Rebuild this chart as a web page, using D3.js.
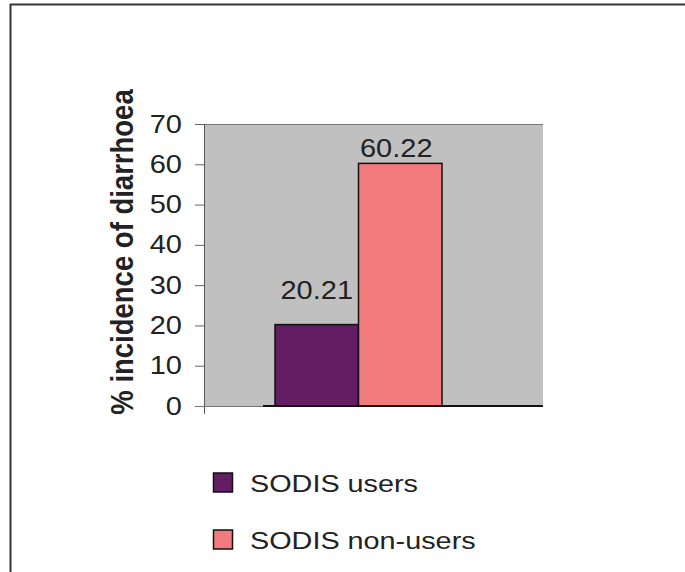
<!DOCTYPE html>
<html>
<head>
<meta charset="utf-8">
<script src="https://cdn.jsdelivr.net/npm/d3@7"></script>
<style>
  html, body { margin: 0; padding: 0; background: #fff; }
  svg { display: block; font-family: "Liberation Sans", Arial, sans-serif; }
</style>
</head>
<body>
<svg id="chart" width="685" height="572"></svg>
<script>
// Data
const series = ["SODIS users", "SODIS non-users"];
const values = [20.21, 60.22];
const colors = ["#621d63", "#f27b7e"];
const yTicks = [0, 10, 20, 30, 40, 50, 60, 70];
const yTitle = "% incidence of diarrhoea";

// Text in this figure is set slightly wide
const stretch = 1.16;

const svg = d3.select("#chart");

// Outer frame (top and left rules)
svg.append("line").attr("x1", 10).attr("x2", 685).attr("y1", 4.5).attr("y2", 4.5)
  .attr("stroke", "#333").attr("stroke-width", 2);
svg.append("line").attr("x1", 10.5).attr("x2", 10.5).attr("y1", 4).attr("y2", 572)
  .attr("stroke", "#333").attr("stroke-width", 2);

// Plot area
const plot = { left: 204, right: 543, top: 124, bottom: 406 };

const y = d3.scaleLinear().domain([0, 70]).range([plot.bottom, plot.top]);
const x = d3.scaleBand().domain(series).range([275, 442]).padding(0);

svg.append("rect")
  .attr("x", plot.left).attr("y", plot.top)
  .attr("width", plot.right - plot.left).attr("height", plot.bottom - plot.top)
  .attr("fill", "#c0c0c0");
svg.append("line")
  .attr("x1", plot.left).attr("x2", plot.right)
  .attr("y1", plot.top + 0.5).attr("y2", plot.top + 0.5)
  .attr("stroke", "#7a7a7a").attr("stroke-width", 1);

// Bars
svg.append("g").selectAll("rect")
  .data(series)
  .join("rect")
  .attr("x", d => x(d))
  .attr("y", (d, i) => y(values[i]))
  .attr("width", x.bandwidth())
  .attr("height", (d, i) => y(0) - y(values[i]))
  .attr("fill", (d, i) => colors[i])
  .attr("stroke", "#111")
  .attr("stroke-width", 1.5);

// Value labels (the first one is lifted clear of the taller bar)
const labelLift = [26, 6];
svg.append("g").selectAll("text")
  .data(series)
  .join("text")
  .attr("transform", (d, i) =>
    `translate(${x(d) + x.bandwidth() / 2 + (i === 0 ? 0 : -4)}, ${y(values[i]) - labelLift[i]}) scale(${stretch},1)`)
  .attr("text-anchor", "middle")
  .attr("font-size", 25)
  .attr("fill", "#222")
  .text((d, i) => values[i].toFixed(2));

// Y axis
const yAxis = d3.axisLeft(y).tickValues(yTicks).tickSize(9).tickPadding(0);
const gy = svg.append("g")
  .attr("transform", `translate(${plot.left},0)`)
  .call(yAxis);
gy.select(".domain").remove();
gy.selectAll(".tick line").attr("stroke", "#666");
gy.selectAll(".tick text")
  .attr("x", null)
  .attr("transform", `translate(-22,0) scale(${stretch},1)`)
  .attr("font-size", 25)
  .attr("font-family", "Liberation Sans, Arial, sans-serif")
  .attr("fill", "#222");
svg.append("line")
  .attr("x1", plot.left + 0.5).attr("x2", plot.left + 0.5)
  .attr("y1", plot.top).attr("y2", plot.bottom + 8)
  .attr("stroke", "#555").attr("stroke-width", 1);

// Category axis baseline
svg.append("line")
  .attr("x1", plot.left - 9).attr("x2", plot.right)
  .attr("y1", y(0) + 0.5).attr("y2", y(0) + 0.5)
  .attr("stroke", "#777").attr("stroke-width", 1);
svg.append("line")
  .attr("x1", 263).attr("x2", plot.right)
  .attr("y1", y(0)).attr("y2", y(0))
  .attr("stroke", "#111").attr("stroke-width", 2);

// Y axis title
svg.append("text")
  .attr("transform", `translate(133, 252) scale(1.12,1) rotate(-90)`)
  .attr("text-anchor", "middle")
  .attr("font-size", 27.5)
  .attr("font-weight", "bold")
  .attr("fill", "#222")
  .text(yTitle);

// Legend
const legendTop = [473, 530];
const legend = svg.append("g").selectAll("g")
  .data(series)
  .join("g")
  .attr("transform", (d, i) => `translate(213.5, ${legendTop[i]})`);
legend.append("rect")
  .attr("width", 19).attr("height", 19)
  .attr("fill", (d, i) => colors[i])
  .attr("stroke", "#111").attr("stroke-width", 1.5);
legend.append("text")
  .attr("transform", `translate(36.5, 19) scale(1.2,1)`)
  .attr("font-size", 24)
  .attr("fill", "#222")
  .text(d => d);
</script>
</body>
</html>
